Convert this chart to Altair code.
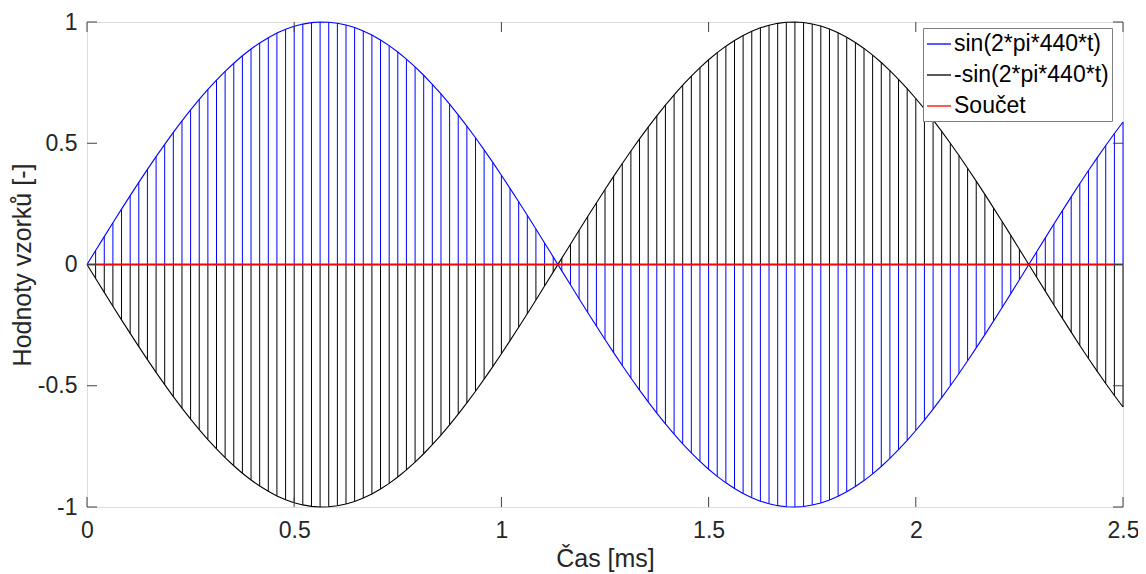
import altair as alt
import pandas as pd

# Sample times [ms] (fs = 48 kHz)
time_ms = [
    0.0, 0.0208, 0.0417, 0.0625, 0.0833, 0.1042, 0.125, 0.1458, 0.1667, 0.1875, 0.2083, 0.2292,
    0.25, 0.2708, 0.2917, 0.3125, 0.3333, 0.3542, 0.375, 0.3958, 0.4167, 0.4375, 0.4583, 0.4792,
    0.5, 0.5208, 0.5417, 0.5625, 0.5833, 0.6042, 0.625, 0.6458, 0.6667, 0.6875, 0.7083, 0.7292,
    0.75, 0.7708, 0.7917, 0.8125, 0.8333, 0.8542, 0.875, 0.8958, 0.9167, 0.9375, 0.9583, 0.9792,
    1.0, 1.0208, 1.0417, 1.0625, 1.0833, 1.1042, 1.125, 1.1458, 1.1667, 1.1875, 1.2083, 1.2292,
    1.25, 1.2708, 1.2917, 1.3125, 1.3333, 1.3542, 1.375, 1.3958, 1.4167, 1.4375, 1.4583, 1.4792,
    1.5, 1.5208, 1.5417, 1.5625, 1.5833, 1.6042, 1.625, 1.6458, 1.6667, 1.6875, 1.7083, 1.7292,
    1.75, 1.7708, 1.7917, 1.8125, 1.8333, 1.8542, 1.875, 1.8958, 1.9167, 1.9375, 1.9583, 1.9792,
    2.0, 2.0208, 2.0417, 2.0625, 2.0833, 2.1042, 2.125, 2.1458, 2.1667, 2.1875, 2.2083, 2.2292,
    2.25, 2.2708, 2.2917, 2.3125, 2.3333, 2.3542, 2.375, 2.3958, 2.4167, 2.4375, 2.4583, 2.4792,
    2.5,
]

sine_vals = [
    0.0, 0.0576, 0.1149, 0.1719, 0.2284, 0.2840, 0.3387, 0.3923, 0.4446, 0.4955, 0.5446, 0.5920,
    0.6374, 0.6807, 0.7218, 0.7604, 0.7965, 0.8300, 0.8607, 0.8886, 0.9135, 0.9354, 0.9542, 0.9699,
    0.9823, 0.9914, 0.9973, 0.9999, 0.9991, 0.9951, 0.9877, 0.9770, 0.9632, 0.9461, 0.9259, 0.9026,
    0.8763, 0.8471, 0.8151, 0.7804, 0.7431, 0.7034, 0.6613, 0.6170, 0.5707, 0.5225, 0.4726, 0.4210,
    0.3681, 0.3140, 0.2588, 0.2028, 0.1461, 0.0889, 0.0314, -0.0262, -0.0837, -0.1409, -0.1977, -0.2538,
    -0.3090, -0.3633, -0.4163, -0.4679, -0.5180, -0.5664, -0.6129, -0.6574, -0.6997, -0.7396, -0.7771, -0.8121,
    -0.8443, -0.8738, -0.9003, -0.9239, -0.9444, -0.9617, -0.9759, -0.9869, -0.9945, -0.9989, -0.9999, -0.9977,
    -0.9921, -0.9833, -0.9711, -0.9558, -0.9373, -0.9157, -0.8910, -0.8634, -0.8329, -0.7997, -0.7638, -0.7254,
    -0.6845, -0.6414, -0.5962, -0.5490, -0.5000, -0.4493, -0.3971, -0.3437, -0.2890, -0.2334, -0.1771, -0.1201,
    -0.0628, -0.0052, 0.0523, 0.1097, 0.1668, 0.2233, 0.2790, 0.3338, 0.3875, 0.4399, 0.4909, 0.5402,
    0.5878,
]

neg_sine_vals = [
    0.0, -0.0576, -0.1149, -0.1719, -0.2284, -0.2840, -0.3387, -0.3923, -0.4446, -0.4955, -0.5446, -0.5920,
    -0.6374, -0.6807, -0.7218, -0.7604, -0.7965, -0.8300, -0.8607, -0.8886, -0.9135, -0.9354, -0.9542, -0.9699,
    -0.9823, -0.9914, -0.9973, -0.9999, -0.9991, -0.9951, -0.9877, -0.9770, -0.9632, -0.9461, -0.9259, -0.9026,
    -0.8763, -0.8471, -0.8151, -0.7804, -0.7431, -0.7034, -0.6613, -0.6170, -0.5707, -0.5225, -0.4726, -0.4210,
    -0.3681, -0.3140, -0.2588, -0.2028, -0.1461, -0.0889, -0.0314, 0.0262, 0.0837, 0.1409, 0.1977, 0.2538,
    0.3090, 0.3633, 0.4163, 0.4679, 0.5180, 0.5664, 0.6129, 0.6574, 0.6997, 0.7396, 0.7771, 0.8121,
    0.8443, 0.8738, 0.9003, 0.9239, 0.9444, 0.9617, 0.9759, 0.9869, 0.9945, 0.9989, 0.9999, 0.9977,
    0.9921, 0.9833, 0.9711, 0.9558, 0.9373, 0.9157, 0.8910, 0.8634, 0.8329, 0.7997, 0.7638, 0.7254,
    0.6845, 0.6414, 0.5962, 0.5490, 0.5000, 0.4493, 0.3971, 0.3437, 0.2890, 0.2334, 0.1771, 0.1201,
    0.0628, 0.0052, -0.0523, -0.1097, -0.1668, -0.2233, -0.2790, -0.3338, -0.3875, -0.4399, -0.4909, -0.5402,
    -0.5878,
]

# Sum of both signals
sum_vals = [round(a + b, 4) for a, b in zip(sine_vals, neg_sine_vals)]

series_names = ["sin(2*pi*440*t)", "-sin(2*pi*440*t)", "Součet"]
series_colors = ["#0000ff", "#000000", "#ff0000"]

x_ticks = [0, 0.5, 1, 1.5, 2, 2.5]
y_ticks = [-1, -0.5, 0, 0.5, 1]

rows = []
for name, vals in zip(series_names, [sine_vals, neg_sine_vals, sum_vals]):
    for t, v in zip(time_ms, vals):
        rows.append({"t": t, "v": v, "s": name})
df = pd.DataFrame(rows)

W, H = 1036, 485
FONT = "Liberation Sans"
TXT = "#262626"

xscale = alt.Scale(domain=[0, 2.5], nice=False, zero=False)
yscale = alt.Scale(domain=[-1, 1], nice=False, zero=False)
cscale = alt.Scale(domain=series_names, range=series_colors)

legend = alt.Legend(
    title=None, orient="none", legendX=836, legendY=6,
    symbolType="stroke", symbolSize=576, symbolStrokeWidth=1.3,
    labelFontSize=23, labelFont=FONT, labelColor="#000000",
    fillColor="white", strokeColor="#7f7f7f", padding=3,
    rowPadding=6, labelOffset=2, symbolOffset=0,
)

xaxis = alt.Axis(values=x_ticks, title="Čas [ms]", ticks=False, domain=False, grid=False,
                 labelExpr="toString(datum.value)",
                 labelFontSize=23, labelFont=FONT, labelColor=TXT, labelPadding=12,
                 titleFontSize=25, titleFont=FONT, titleColor=TXT, titleFontWeight="normal",
                 titlePadding=4, labelFlush=False)
yaxis = alt.Axis(values=y_ticks, title="Hodnoty vzorků [-]", ticks=False, domain=False, grid=False,
                 labelExpr="toString(datum.value)",
                 labelFontSize=23, labelFont=FONT, labelColor=TXT, labelPadding=10,
                 titleFontSize=25, titleFont=FONT, titleColor=TXT, titleFontWeight="normal",
                 titlePadding=2, labelFlush=False)

base = alt.Chart(df)

stems = base.transform_filter(alt.datum.s != "Součet").mark_rule(strokeWidth=1).encode(
    x=alt.X("t:Q", scale=xscale, axis=xaxis),
    y=alt.Y("v:Q", scale=yscale, axis=yaxis),
    y2=alt.datum(0),
    color=alt.Color("s:N", scale=cscale, legend=legend, sort=series_names),
)

lines = base.transform_filter(alt.datum.s != "Součet").mark_line(strokeWidth=1.1).encode(
    x=alt.X("t:Q", scale=xscale),
    y=alt.Y("v:Q", scale=yscale),
    color=alt.Color("s:N", scale=cscale, legend=legend, sort=series_names),
)

sum_line = base.transform_filter(alt.datum.s == "Součet").mark_line(strokeWidth=2).encode(
    x=alt.X("t:Q", scale=xscale),
    y=alt.Y("v:Q", scale=yscale),
    color=alt.Color("s:N", scale=cscale, legend=legend, sort=series_names),
)

xt = pd.DataFrame({"v": x_ticks})
yt = pd.DataFrame({"v": y_ticks})
TICK = "#404040"
tick_b = alt.Chart(xt).mark_rule(color=TICK, strokeWidth=1).encode(
    x=alt.X("v:Q", scale=xscale), y=alt.value(H), y2=alt.value(H - 10))
tick_t = alt.Chart(xt).mark_rule(color=TICK, strokeWidth=1).encode(
    x=alt.X("v:Q", scale=xscale), y=alt.value(0), y2=alt.value(10))
tick_l = alt.Chart(yt).mark_rule(color=TICK, strokeWidth=1).encode(
    y=alt.Y("v:Q", scale=yscale), x=alt.value(0), x2=alt.value(10))
tick_r = alt.Chart(yt).mark_rule(color=TICK, strokeWidth=1).encode(
    y=alt.Y("v:Q", scale=yscale), x=alt.value(W), x2=alt.value(W - 10))

chart = alt.layer(stems, lines, sum_line, tick_b, tick_t, tick_l, tick_r).properties(
    width=W, height=H,
    autosize=alt.AutoSizeParams(type="none"),
    padding={"left": 79, "top": 14, "right": 15, "bottom": 66},
).configure_view(stroke="#808080", strokeWidth=1).configure(background="white")

chart.save("out.html", embed_options={"renderer": "svg", "actions": False})
